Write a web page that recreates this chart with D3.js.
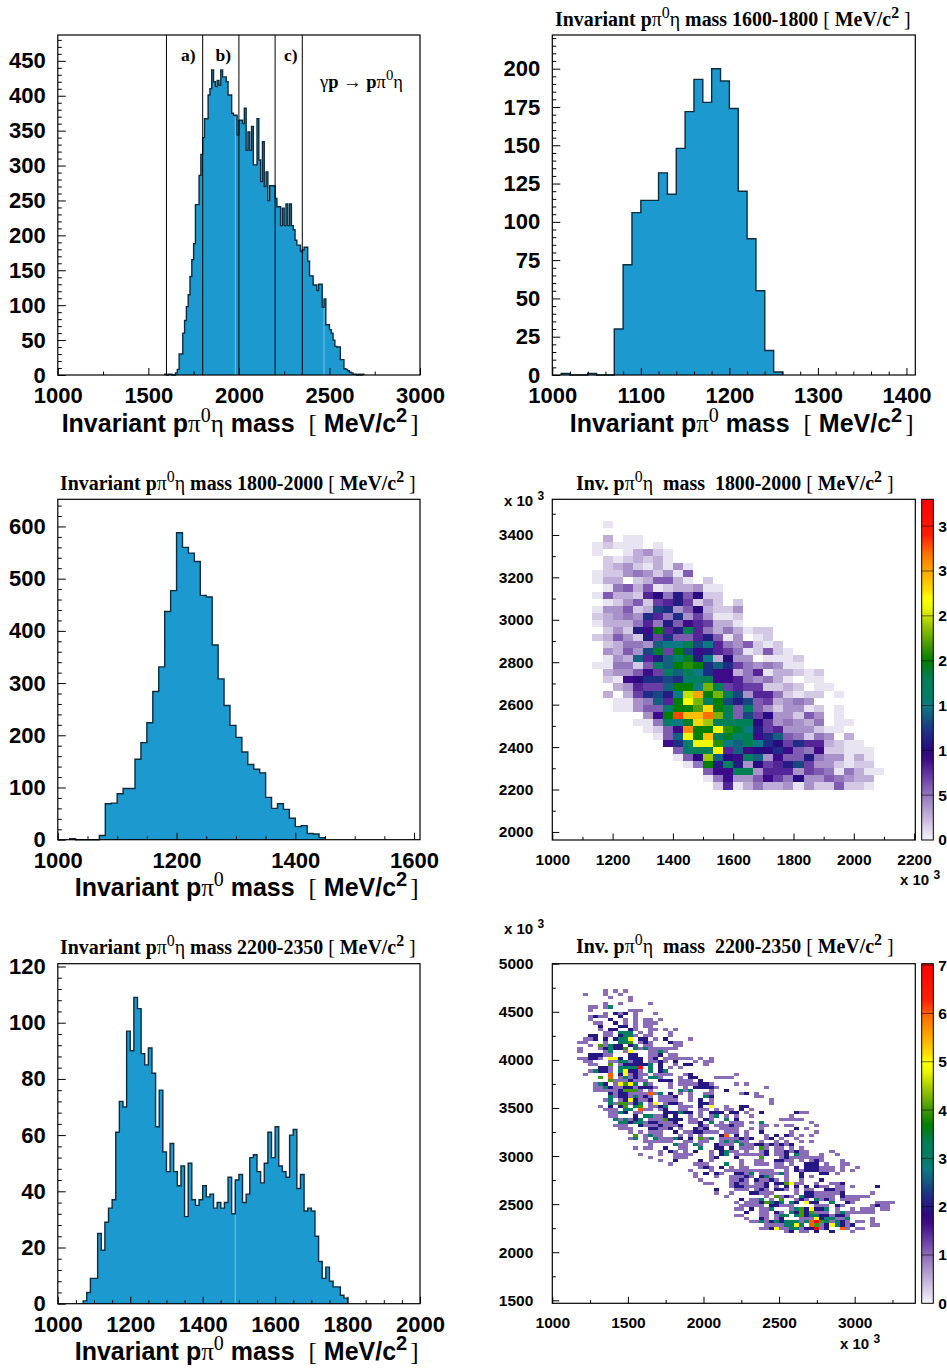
<!DOCTYPE html>
<html>
<head>
<meta charset="utf-8">
<script src="https://cdn.jsdelivr.net/npm/d3@7"></script>
<style>
  body { margin: 0; background: #fff; }
  svg { display: block; }
  text { white-space: pre; }
</style>
</head>
<body>
<div id="app"></div>
<script>
// All histograms use 10 MeV bins, first value is the bin starting at *Start
const massStart = 1590;
const massCounts = [1, 0, 1, 1, 0, 0, 3, 8, 30, 30, 60, 78, 98, 115, 141, 165, 188, 244, 244, 286, 316, 340,
  367, 367, 401, 410, 437, 420, 413, 422, 415, 437, 427, 427, 420, 401, 401, 375, 372, 372, 344, 365, 365,
  360, 382, 322, 348, 322, 356, 301, 301, 367, 308, 277, 334, 270, 291, 250, 271, 271, 271, 253, 241, 241,
  214, 239, 214, 245, 214, 245, 214, 208, 193, 186, 186, 177, 179, 183, 183, 163, 142, 142, 129, 129, 121,
  130, 130, 97, 109, 72, 72, 65, 60, 50, 41, 40, 40, 22, 22, 9, 8, 6, 4, 3, 1, 1, 0, 1, 0, 1];
const massCuts = [1600, 1800, 2000, 2200, 2350];
const massSeams = [1980, 2470];

const cut1600Start = 1010;
const cut1600Counts = [1, 0, 0, 1, 0, 0, 30, 72, 106, 114, 114, 132, 118, 148, 172, 193, 178, 200, 192, 174,
  120, 89, 55, 16, 2];

const cut1800Start = 1020;
const cut1800Counts = [2, 0, 0, 0, 0, 8, 69, 70, 88, 98, 98, 154, 186, 224, 284, 331, 437, 477, 588, 560,
  549, 533, 468, 465, 373, 308, 257, 219, 196, 168, 144, 135, 128, 81, 60, 69, 58, 41, 25, 27, 12, 11, 4];

const cut2200Start = 1070;
const cut2200Counts = [1, 4, 9, 9, 25, 19, 29, 34, 37, 61, 72, 70, 97, 90, 109, 105, 89, 85, 91, 82, 63, 76,
  54, 47, 57, 47, 42, 49, 31, 50, 37, 35, 37, 42, 38, 39, 34, 36, 34, 36, 45, 32, 44, 46, 36, 39, 52, 53,
  47, 43, 50, 61, 52, 63, 49, 47, 45, 60, 62, 41, 46, 33, 34, 33, 24, 15, 9, 13, 8, 6, 6, 3, 2];
const cut2200Seams = [1490];

// Dalitz plots: 33.33 MeV bins. Columns start at 1000 + 4 bins, rows go down from the top value
const binWidth = 100 / 3;
const heat1800Top = 3466.67;
const heat1800Col = 4;
const heat1800 = [
  [0, 1], [],
  [0, 3, 0, 1, 1],
  [1, 2, 1, 1, 1, 0, 1],
  [1, 0, 0, 1, 3, 4, 2, 1],
  [0, 2, 1, 2, 3, 2, 3, 1],
  [0, 2, 3, 4, 2, 1, 3, 1, 4, 1],
  [1, 2, 2, 4, 5, 4, 2, 4, 1, 6],
  [1, 3, 3, 0, 2, 3, 6, 6, 3, 1, 0, 2],
  [0, 1, 5, 6, 3, 6, 1, 2, 3, 3, 4, 1, 1],
  [1, 6, 3, 3, 2, 8, 10, 5, 11, 6, 10, 2, 2],
  [0, 1, 2, 4, 6, 2, 7, 8, 11, 7, 2, 4, 2, 0, 2],
  [1, 4, 4, 6, 2, 3, 13, 12, 4, 6, 10, 3, 2, 2, 4],
  [2, 3, 4, 5, 4, 12, 8, 5, 12, 4, 7, 4, 1, 1, 2],
  [1, 3, 3, 3, 5, 8, 5, 11, 6, 9, 8, 7, 3, 3, 1],
  [0, 2, 4, 2, 11, 9, 20, 8, 11, 18, 8, 5, 3, 5, 3, 1, 2, 2],
  [2, 3, 6, 4, 2, 11, 7, 12, 6, 6, 8, 11, 6, 1, 4, 0, 1, 2],
  [0, 2, 3, 5, 5, 4, 14, 15, 15, 18, 13, 15, 8, 5, 4, 6, 2, 1, 2],
  [0, 4, 3, 6, 4, 13, 19, 7, 20, 13, 9, 11, 8, 7, 5, 1, 2, 6, 2, 1],
  [0, 1, 4, 3, 14, 8, 11, 14, 16, 19, 11, 15, 3, 10, 4, 4, 0, 1, 1, 1, 2],
  [1, 1, 5, 5, 2, 6, 16, 14, 20, 21, 20, 12, 14, 12, 7, 5, 4, 5, 4, 1, 1],
  [0, 3, 4, 4, 6, 9, 7, 16, 14, 18, 15, 12, 9, 9, 3, 5, 8, 1, 3, 3, 2, 1, 2],
  [0, 2, 1, 9, 10, 12, 12, 13, 12, 16, 17, 18, 9, 9, 8, 5, 4, 5, 3, 1, 0, 1, 1],
  [0, 0, 3, 4, 8, 7, 7, 14, 20, 20, 15, 23, 18, 7, 8, 7, 7, 2, 2, 3, 2, 0, 1, 1],
  [0, 3, 0, 3, 7, 12, 13, 11, 15, 25, 30, 20, 23, 17, 13, 4, 8, 8, 5, 2, 1, 2, 2, 0, 1],
  [0, 0, 1, 1, 4, 5, 14, 8, 20, 27, 23, 17, 20, 13, 11, 13, 6, 7, 3, 4, 5, 4],
  [0, 0, 1, 1, 4, 6, 6, 16, 20, 20, 22, 28, 20, 18, 6, 16, 6, 4, 2, 4, 4, 1, 2, 0, 1],
  [0, 0, 0, 0, 0, 4, 9, 20, 33, 29, 29, 32, 23, 17, 6, 13, 7, 10, 4, 4, 2, 6, 4, 0, 1],
  [0, 0, 0, 0, 1, 1, 5, 16, 15, 19, 28, 24, 18, 18, 17, 18, 10, 7, 4, 5, 4, 3, 5, 0, 1, 1],
  [0, 0, 0, 0, 0, 1, 2, 6, 9, 31, 20, 20, 27, 21, 19, 15, 11, 7, 8, 4, 4, 4, 2, 1, 1],
  [0, 0, 0, 0, 0, 0, 1, 6, 14, 26, 20, 29, 17, 19, 16, 18, 9, 12, 14, 6, 5, 2, 5, 4, 0, 3],
  [0, 0, 0, 0, 0, 0, 0, 9, 12, 16, 26, 26, 21, 15, 14, 18, 15, 12, 10, 7, 12, 8, 8, 3, 2, 1, 1],
  [0, 0, 0, 0, 0, 0, 0, 0, 6, 16, 18, 18, 27, 8, 14, 9, 10, 10, 12, 9, 6, 5, 9, 2, 2, 1, 1, 1],
  [0, 0, 0, 0, 0, 0, 0, 0, 1, 6, 10, 24, 14, 10, 9, 17, 14, 4, 9, 6, 6, 11, 5, 4, 4, 1, 3, 1],
  [0, 0, 0, 0, 0, 0, 0, 0, 0, 1, 5, 20, 11, 17, 11, 4, 10, 7, 8, 11, 13, 7, 4, 4, 2, 1, 2, 2],
  [0, 0, 0, 0, 0, 0, 0, 0, 0, 0, 0, 6, 9, 9, 18, 18, 4, 8, 8, 8, 4, 7, 6, 5, 1, 5, 3, 1, 1],
  [0, 0, 0, 0, 0, 0, 0, 0, 0, 0, 0, 1, 5, 9, 4, 4, 6, 9, 7, 5, 10, 4, 4, 6, 5, 4, 3, 3],
  [0, 0, 0, 0, 0, 0, 0, 0, 0, 0, 0, 0, 2, 8, 1, 3, 5, 3, 3, 4, 1, 4, 2, 2, 6, 2, 2, 1]
];

// One character per bin, '.' = empty. Rows go down from heat2200Top, columns from 1000
const heat2200Top = 4733.33;
const heat2200 = [
  '..........1.1.1',
  '......1...1..1',
  '...........1...1',
  '...............1',
  '..........1..1.....1',
  '.......11.13',
  '.......1.......111',
  '..........1.212.1...1',
  '.......1211..2..1',
  '.......1...2..1.1.11.1',
  '........11..2.1.1.111',
  '.........2...22.1.11',
  '.........1.22..21..11.1.1',
  '..........11.333.1.1...1',
  '.......22.11.2331.11...1',
  '......112.2.2335.22.1.2....1',
  '.....11...1..334.121...211',
  '.......1.41322.23.11....11',
  '.....1...123224.313111111',
  '.....1....13..15...1131',
  '.......22211...22..112.11',
  '.....11221.552.222.12.111111.1.1',
  '......11...1133122.1121.2...1.11',
  '.......11..4.1222223.2..1.22..1',
  '.........221.33337.3.2.1.1',
  '.......13221.35221.3.23',
  '......1....6.251211.1111..12........1',
  '.........4.6.13121.331...1.22...1111',
  '...........41112111..222.111.2',
  '........132.15453.31...1.1111221....1.1',
  '........1132112212221..1..1.22221.........1',
  '........1111124441.1.....313...1..2',
  '...........21221111613.2.1.1..11.....12.1',
  '...........312213121.1112..1..32........11',
  '..........13.1252112.1111..1.2.1...........1',
  '...........3144123.15.1221...221...........1',
  '.........1.2.24.34.1123..111.2.5..1..22',
  '..........111.33.611.12..11..11.1.11.2.1',
  '...........1132.11....222322.1.222.22.1..2',
  '...........11...2.33112.2..1.1.13.1.1..1',
  '............313123.1114222.11.21..3.2',
  '.............332331221112..112.3.1.111.1.3',
  '............111..211121112...21.111211...11',
  '.............111...22112.1..212..1111..1.1',
  '...............1.1.111..2.1122111.111.1..2',
  '................4.1311...1.1.1...26.2.1...1',
  '...............13.1.311132.2.413.1111212..12',
  '..................111111..11.11..131311..1',
  '...................1....311.31..2111.3112212',
  '................1.11..2..11..3..22.2.111.41',
  '.....................1.21.1.2..1.2311.1..12',
  '.................1...1..1111...1.23.1111112',
  '...................1....111....12...2....4',
  '.....................1..2....2.1.....1..11',
  '.......................1....111...3..1..111',
  '.............................121.2.1.11',
  '...........................1...1..1111111111..1.21222111.1.1',
  '............................1.2.21..2213.111131..2...22.1',
  '............................1...1..11121.231..1..2.1',
  '.............................1.....1121.21121.1..1...2',
  '..............................11...1211.112.224511..1..112',
  '...................................12211112.1.2.2.2.211.11.1....2',
  '................................2...111.121.221.1.11..2211',
  '................................1..1...22111....1.22111112.....1',
  '..................................1.......1.4121.3221111.211111',
  '.....................................2.113.1.4..121.3121.1111',
  '....................................1.11124323.32.522..3..21....1111',
  '.....................................11111.22111....111.21.....1211',
  '....................................11.2.113...13425223.1..1.111.11',
  '......................................2..11.21.32424111.13111111',
  '....................................11...11.133.34233221221',
  '......................................1..21.12...1115233113....1',
  '.......................................11312323331367431321.11.1',
  '..........................................11113353.641253212...11',
  '.........................................11251133122712..61.11',
  '..............................................12.11.2..2...1'
];
// Far right part of the middle rows: [row, cells from column 44]
const heat2200Col = 44;
const heat2200Right = [
  [38, '....211'], [39, '...1'], [40, '.11111'], [41, '.......1'], [42, '1.11....1'], [43, '....2.1'],
  [44, '...1....1'], [45, '2.21.1.1'], [46, '.1..1'], [47, '1.1..1.1'], [48, '1212'], [49, '11.1.1'],
  [50, '1121211....1'], [51, '112.311..1..1'], [52, '.121111111'], [53, '2211.1.121...1'],
  [54, '11.1..222.1..11'], [55, '111.2.222111.1..1']
];

const paletteStops = [0, 5, 7, 9, 10, 12, 14, 15, 16, 18, 20, 22, 24, 26, 27, 28, 30, 32, 34, 38];
const paletteColors = ['#ffffff', '#9377bd', '#6a3fa5', '#3d0a8a', '#2a0a80', '#1e2d85', '#13607f', '#0a7a85',
  '#007f66', '#007f55', '#007f00', '#4f9f00', '#9fc800', '#f0f800', '#ffff00', '#ffd800', '#ffa500', '#ff7000',
  '#ff2000', '#ff0000'];
const palette = d3.scaleLinear().domain(paletteStops).range(paletteColors);

const SANS = "'Liberation Sans', Arial, sans-serif";
const SERIF = "'Liberation Serif', 'Times New Roman', serif";
const histFill = '#1c9acf';
const histLine = '#0c2c3e';

const svg = d3.select('#app').append('svg')
  .attr('width', 947)
  .attr('height', 1369);

const titleMain = (mass) => [
  ['Invariant p', 'b'], ['π', 'g'], ['0', 'sg'], ['η', 'g'], [` mass ${mass} `, 'b'], ['[', 'g'],
  [' MeV/c', 'b'], ['2', 'sb'], [' ', 'b'], [']', 'g']
];
const titleInv = (mass) => [
  ['Inv. p', 'b'], ['π', 'g'], ['0', 'sg'], ['η', 'g'], [`  mass  ${mass} `, 'b'], ['[', 'g'],
  [' MeV/c', 'b'], ['2', 'sb'], [' ', 'b'], [']', 'g']
];
const xLabelParts = (eta) => [
  ['Invariant p', 'b'], ['π', 'g'], ['0', 'sg'], ...(eta ? [['η', 'g']] : []), [' mass  ', 'b'], ['[', 'g'],
  [' MeV/c', 'b'], ['2', 'sb'], [' ', 'b'], [']', 'g', -4]
];

/**
 * Text made of pieces: b = bold, g = thin serif (greek, brackets), s* = superscript of the same.
 * A third element nudges the piece sideways.
 */
function richText(parent, x, y, anchor, parts, size, family) {
  const text = parent.append('text')
    .attr('x', x)
    .attr('y', y)
    .attr('text-anchor', anchor)
    .attr('font-size', size)
    .attr('font-family', family)
    .attr('font-weight', 'bold')
    .attr('fill', '#000');
  let shift = 0;
  parts.forEach(([str, kind, nudge]) => {
    const isSup = kind[0] === 's';
    const target = isSup ? -0.42 * size : 0;
    const span = text.append('tspan').attr('dy', target - shift).text(str);
    shift = target;
    if (nudge) span.attr('dx', nudge);
    if (kind.endsWith('g')) {
      span.attr('font-family', SERIF).attr('font-weight', 'normal');
    }
    if (isSup) span.attr('font-size', size * 0.8);
  });
  return text;
}

/**
 * Inward ROOT style ticks with the labels outside of the frame.
 */
function drawAxes(g, x, y, o) {
  const bottom = y.range()[0];
  const left = x.range()[0];
  const xMajor = d3.range(o.xTicks[0], o.xTicks[1] + 1, o.xTicks[2]);
  const yMajor = d3.range(o.yTicks[0], o.yTicks[1] + 1, o.yTicks[2]);
  const xMinor = d3.range(o.xTicks[0], x.domain()[1], o.xTicks[3]).filter((d) => !xMajor.includes(d));
  const yMinor = d3.range(o.yMinorStart ?? o.yTicks[0], y.domain()[1], o.yTicks[3]).filter((d) => !yMajor.includes(d));

  const style = (a) => {
    a.select('.domain').remove();
    a.selectAll('text')
      .attr('font-family', SANS)
      .attr('font-weight', 'bold')
      .attr('font-size', o.labelSize)
      .attr('fill', '#000');
    a.selectAll('line').attr('stroke', '#000').attr('stroke-width', 1);
  };

  g.append('g').attr('transform', `translate(0,${bottom})`)
    .call(d3.axisBottom(x).tickValues(xMajor).tickSize(-o.xTickLen).tickSizeOuter(0).tickPadding(o.xPad).tickFormat(d3.format('d')))
    .call(style);
  g.append('g').attr('transform', `translate(0,${bottom})`)
    .call(d3.axisBottom(x).tickValues(xMinor).tickSize(-o.xTickLen / 2).tickSizeOuter(0).tickFormat(''))
    .call(style);
  g.append('g').attr('transform', `translate(${left},0)`)
    .call(d3.axisLeft(y).tickValues(yMajor).tickSize(-o.yTickLen).tickSizeOuter(0).tickPadding(o.yPad).tickFormat(d3.format('d')))
    .call(style);
  g.append('g').attr('transform', `translate(${left},0)`)
    .call(d3.axisLeft(y).tickValues(yMinor).tickSize(-o.yTickLen / 2).tickSizeOuter(0).tickFormat(''))
    .call(style);
}

function drawFrame(g, x, y) {
  g.append('rect')
    .attr('x', x.range()[0])
    .attr('y', y.range()[1])
    .attr('width', x.range()[1] - x.range()[0])
    .attr('height', y.range()[0] - y.range()[1])
    .attr('fill', 'none')
    .attr('stroke', '#000')
    .attr('stroke-width', 1.2);
}

function drawHist(o) {
  const g = svg.append('g');
  const x = d3.scaleLinear().domain(o.xDomain).range([o.left, o.right]);
  const y = d3.scaleLinear().domain(o.yDomain).range([o.bottom, o.top]);
  const points = [{ m: o.start, n: 0 }]
    .concat(o.counts.map((n, i) => ({ m: o.start + i * 10, n })))
    .concat([{ m: o.start + o.counts.length * 10, n: 0 }]);

  g.append('path')
    .datum(points)
    .attr('fill', histFill)
    .attr('d', d3.area().curve(d3.curveStepAfter).x((d) => x(d.m)).y0(y(0)).y1((d) => y(d.n)));

  (o.seams || []).forEach((m) => {
    const n = o.counts[Math.round((m - o.start) / 10)];
    g.append('line')
      .attr('x1', x(m)).attr('x2', x(m))
      .attr('y1', y(0)).attr('y2', y(n) + 2)
      .attr('stroke', '#72c4e6')
      .attr('stroke-width', 1);
  });

  g.append('path')
    .datum(points)
    .attr('fill', 'none')
    .attr('stroke', histLine)
    .attr('stroke-width', 1.4)
    .attr('d', d3.line().curve(d3.curveStepAfter).x((d) => x(d.m)).y((d) => y(d.n)));

  drawAxes(g, x, y, {
    xTicks: o.xTicks, yTicks: o.yTicks, labelSize: 22, xTickLen: 7, yTickLen: 8, xPad: 12.4, yPad: 12
  });
  drawFrame(g, x, y);
  return { g, x, y };
}

function drawHeat(o) {
  const g = svg.append('g');
  const x = d3.scaleLinear().domain(o.xDomain).range([552.3, 915.3]);
  const y = d3.scaleLinear().domain(o.yDomain).range([o.bottom, o.top]);

  g.append('g').selectAll('rect')
    .data(o.cells)
    .join('rect')
    .attr('x', (d) => x(1000 + d.col * binWidth))
    .attr('y', (d) => y(o.rowTop - d.row * binWidth))
    .attr('width', x(1000 + binWidth) - x(1000))
    .attr('height', y(0) - y(binWidth))
    .attr('shape-rendering', 'crispEdges')
    .attr('fill', (d) => palette(o.colorOf(d.n)));

  drawAxes(g, x, y, {
    xTicks: o.xTicks, yTicks: o.yTicks, yMinorStart: o.yMinorStart, labelSize: 15.5,
    xTickLen: 6.5, yTickLen: 7, xPad: 14, yPad: 19
  });
  drawFrame(g, x, y);
  drawColorBar(g, o);
}

function drawColorBar(g, o) {
  const z = d3.scaleLinear().domain([0, o.zMax]).range([o.bottom, o.top]);
  const id = `bar${o.top | 0}`;
  const grad = svg.append('defs').append('linearGradient')
    .attr('id', id).attr('x1', 0).attr('x2', 0).attr('y1', 1).attr('y2', 0);
  paletteStops.forEach((s, i) => {
    grad.append('stop')
      .attr('offset', s / 38)
      .attr('stop-color', i === 0 ? '#f6f4fb' : paletteColors[i]);
  });
  g.append('rect')
    .attr('x', 921.7)
    .attr('y', o.top)
    .attr('width', 11.6)
    .attr('height', o.bottom - o.top)
    .attr('fill', `url(#${id})`)
    .attr('stroke', '#000')
    .attr('stroke-width', 1);

  const axis = d3.axisRight(z).tickValues(o.zTicks).tickSize(0).tickPadding(5);
  const a = g.append('g').attr('transform', 'translate(933.3,0)').call(axis);
  a.select('.domain').remove();
  a.selectAll('text')
    .attr('font-family', SANS)
    .attr('font-weight', 'bold')
    .attr('font-size', 15.5)
    .attr('fill', '#000');
  g.append('g').selectAll('line')
    .data(o.zTicks.filter((d) => d > 0))
    .join('line')
    .attr('x1', 921.7).attr('x2', 933.3)
    .attr('y1', (d) => z(d)).attr('y2', (d) => z(d))
    .attr('stroke', '#000')
    .attr('stroke-opacity', 0.55)
    .attr('stroke-width', 1);
}

function powerLabel(x, y) {
  richText(svg, x, y, 'start', [['x 10 ', 'b'], ['3', 'sb']], 15, SANS);
}

// top left: whole p pi0 eta mass
const panelMass = drawHist({
  left: 57.8, right: 420, top: 35, bottom: 375, xDomain: [1000, 3000], yDomain: [0, 487],
  start: massStart, counts: massCounts, seams: massSeams, xTicks: [1000, 3000, 500, 250], yTicks: [0, 450, 50, 10]
});
panelMass.g.selectAll('.cut')
  .data(massCuts)
  .join('line')
  .attr('class', 'cut')
  .attr('x1', (d) => panelMass.x(d)).attr('x2', (d) => panelMass.x(d))
  .attr('y1', panelMass.y.range()[1]).attr('y2', panelMass.y.range()[0])
  .attr('stroke', '#000')
  .attr('stroke-width', 1);
[['a)', 181], ['b)', 215.5], ['c)', 284]].forEach(([s, px]) => {
  richText(svg, px, 61, 'start', [[s, 'b']], 17.5, SERIF);
});
richText(svg, 320, 88, 'start', [
  ['γ', 'g'], ['p ', 'b'], ['→', 'g'], [' p', 'b'], ['π', 'g'], ['0', 'sg'], ['η', 'g']
], 18.5, SERIF);
richText(svg, 418.5, 432, 'end', xLabelParts(true), 25, SANS);

// top right
drawHist({
  left: 552.3, right: 915.3, top: 35, bottom: 375, xDomain: [1000, 1410], yDomain: [0, 222],
  start: cut1600Start, counts: cut1600Counts, xTicks: [1000, 1400, 100, 20], yTicks: [0, 200, 25, 5]
});
richText(svg, 555, 26, 'start', titleMain('1600-1800'), 19.9, SERIF);
richText(svg, 913.5, 432, 'end', xLabelParts(false), 25, SANS);

// middle left
drawHist({
  left: 57.8, right: 420, top: 499.3, bottom: 839.7, xDomain: [1000, 1610], yDomain: [0, 652],
  start: cut1800Start, counts: cut1800Counts, xTicks: [1000, 1600, 200, 50], yTicks: [0, 600, 100, 20]
});
richText(svg, 60, 490, 'start', titleMain('1800-2000'), 19.9, SERIF);
richText(svg, 418.5, 896, 'end', xLabelParts(false), 25, SANS);

// bottom left
drawHist({
  left: 57.8, right: 420, top: 963.7, bottom: 1303.7, xDomain: [1000, 2000], yDomain: [0, 121],
  start: cut2200Start, counts: cut2200Counts, seams: cut2200Seams, xTicks: [1000, 2000, 200, 50], yTicks: [0, 120, 20, 4]
});
richText(svg, 60, 954, 'start', titleMain('2200-2350'), 19.9, SERIF);
richText(svg, 418.5, 1360, 'end', xLabelParts(false), 25, SANS);

// middle right
const cells1800 = heat1800.flatMap((cols, row) =>
  cols.map((n, i) => ({ row, col: heat1800Col + i, n })).filter((d) => d.n > 0));
drawHeat({
  top: 499.3, bottom: 840, xDomain: [1000, 2204], yDomain: [1962, 3568],
  cells: cells1800, rowTop: heat1800Top, colorOf: (n) => n, zMax: 38, zTicks: d3.range(0, 36, 5),
  xTicks: [1000, 2200, 200, 100], yTicks: [2000, 3400, 200, 100]
});
richText(svg, 576, 490, 'start', titleInv('1800-2000'), 19.9, SERIF);
powerLabel(504, 506);
powerLabel(900, 885);

// bottom right
const cells2200 = heat2200.flatMap((s, row) =>
  Array.from(s).map((c, col) => ({ row, col, n: +c || 0 })))
  .concat(heat2200Right.flatMap(([row, s]) =>
    Array.from(s).map((c, i) => ({ row, col: heat2200Col + i, n: +c || 0 }))))
  .filter((d) => d.n > 0);
drawHeat({
  top: 963.7, bottom: 1303.3, xDomain: [1000, 3401], yDomain: [1469, 5000],
  cells: cells2200, rowTop: heat2200Top, colorOf: (n) => n / 7.03 * 38, zMax: 7.03, zTicks: d3.range(0, 8),
  xTicks: [1000, 3000, 500, 250], yTicks: [1500, 5000, 500, 250], yMinorStart: 1500
});
richText(svg, 576, 953, 'start', titleInv('2200-2350'), 19.9, SERIF);
powerLabel(504, 934);
powerLabel(840, 1349);
</script>
</body>
</html>
